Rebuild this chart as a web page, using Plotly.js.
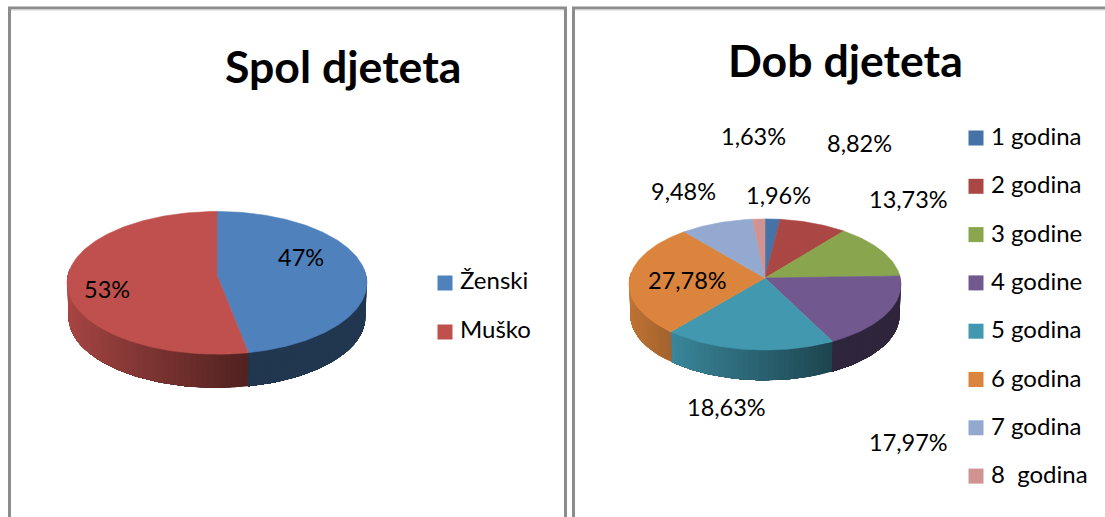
<!DOCTYPE html>
<html>
<head>
<meta charset="utf-8">
<script src="https://cdn.plot.ly/plotly-3.0.1.min.js"></script>
<style>html,body{margin:0;padding:0;background:#fff;overflow:hidden}#c{width:1105px;height:517px}</style>
</head>
<body>
<div id="c"></div>
<script>
// ---- data ----
const sexCategories = ["Ženski", "Muško"];
const sexValues = [47, 53];
const sexColors = ["#4F81BD", "#C0504D"];

const ageCategories = ["1 godina", "2 godina", "3 godine", "4 godine", "5 godina", "6 godina", "7 godina", "8  godina"];
const ageValues = [1.96, 8.82, 13.73, 17.97, 18.63, 27.78, 9.48, 1.63];
const ageColors = ["#4572A7", "#AA4643", "#89A54E", "#71588F", "#4198AF", "#DB843D", "#93A9CF", "#D19392"];

// ---- layout constants (pixels of the page) ----
const FONT = "Lato, 'Open Sans', sans-serif";
const sexPie = {cx: 217, cy: 275, rx: 149, ry: 70.5, k: 0.11, depth: 34.5};
const agePie = {cx: 765, cy: 278, rx: 135.3, ry: 64.9, k: 0.099, depth: 31};
const sexLabelPos = [[301, 257], [107, 289]];
const ageLabelPos = [[778, 195], [859, 143], [908, 199], [908, 442], [726, 407], [687, 280], [683, 191], [753, 136]];
const sexLegend = {x: 445, tx: 460, y: 283, ty: 282.5, step: 49};
const ageLegend = {x: 976, tx: 991, y: 138, ty: 139, step: 48.3};

function project(p, theta, down, scale) {
  const u = Math.sin(theta) * scale, v = -Math.cos(theta) * scale;
  const w = 1 - p.k * v;
  return [p.cx + p.rx * u / w, p.cy + p.ry * v / w + down];
}
function shade(hex, f) {
  const n = parseInt(hex.slice(1), 16);
  return "rgb(" + [(n >> 16) & 255, (n >> 8) & 255, n & 255].map(c => Math.round(c * f)).join(",") + ")";
}
function polyTrace(pts, color, lw) {
  return {
    type: "scatter", mode: "lines", x: pts.map(q => q[0]), y: pts.map(q => q[1]),
    fill: "toself", fillcolor: color, line: {color: color, width: lw},
    hoverinfo: "skip", showlegend: false
  };
}
function pieTraces(p, values, colors) {
  const total = values.reduce((a, b) => a + b, 0);
  const sides = [], tops = [];
  const VIS0 = 85 * Math.PI / 180, VIS1 = 275 * Math.PI / 180, DEG = Math.PI / 180;
  let acc = 0;
  values.forEach((val, i) => {
    const a0 = acc / total * 2 * Math.PI;
    acc += val;
    const a1 = acc / total * 2 * Math.PI;
    // visible side of the slice, painted from its far end so every strip overlaps the next one
    const s0 = Math.max(a0, VIS0), s1 = Math.min(a1, VIS1);
    if (s1 > s0) {
      const uL = Math.min(Math.sin(s0), Math.sin(s1));
      const n = Math.max(1, Math.ceil((s1 - s0) / (2 * DEG)));
      for (let j = 0; j < n; j++) {
        const t0 = s0 + (s1 - s0) * j / n, t1 = s0 + (s1 - s0) * (j + 1) / n;
        const u = Math.sin((t0 + t1) / 2);
        const f = uL >= -0.05 ? 0.42 : Math.max(0.42, 0.88 - 0.39 * (u - uL));
        // strip runs to the slice's end; later strips paint over it
        const pts = [project(p, t0, 0, 1)];
        for (let q = j + 1; q <= n; q++) pts.push(project(p, s0 + (s1 - s0) * q / n, 0, 1));
        for (let q = n; q >= j; q--) pts.push(project(p, s0 + (s1 - s0) * q / n, p.depth, 0.99));
        pts.push(project(p, t0, 0, 1));
        sides.push(polyTrace(pts, shade(colors[i], f), 0));
      }
    }
    // top of the slice
    const pts = [[p.cx, p.cy]];
    const m = Math.max(2, Math.ceil((a1 - a0) / DEG));
    for (let j = 0; j <= m; j++) pts.push(project(p, a0 + (a1 - a0) * j / m, 0, 1));
    pts.push([p.cx, p.cy]);
    tops.push(polyTrace(pts, colors[i], 0.6));
  });
  return sides.concat(tops);
}
function legendTraces(l, cats, colors, size) {
  return [{
    type: "scatter", mode: "markers",
    x: cats.map(() => l.x), y: cats.map((c, i) => l.y + i * l.step),
    marker: {symbol: "square", size: 15, color: colors, line: {width: 0}},
    hoverinfo: "skip", showlegend: false, cliponaxis: false
  }, {
    type: "scatter", mode: "text",
    x: cats.map(() => l.tx), y: cats.map((c, i) => l.ty + i * l.step),
    text: cats, textposition: "middle right",
    textfont: {family: FONT, size: size, color: "#000"},
    hoverinfo: "skip", showlegend: false, cliponaxis: false
  }];
}
const fmtAge = v => v.toFixed(2).replace(".", ",") + "%";
const fmtSex = v => v + "%";
function labelAnn(txt, pos) {
  return {text: txt, x: pos[0], y: pos[1], xref: "x", yref: "y", showarrow: false,
    xanchor: "center", yanchor: "middle", font: {family: FONT, size: 23.5, color: "#000"}};
}
function titleAnn(txt, x, y) {
  return {text: "<b>" + txt + "</b>", x: x, y: y, xref: "x", yref: "y", showarrow: false,
    xanchor: "center", yanchor: "middle", font: {family: FONT, size: 44.6, color: "#000"}};
}
function frameLine(x0, y0, x1, y1, c, w) {
  return {type: "line", xref: "x", yref: "y", x0, y0, x1, y1, line: {color: c, width: w}};
}

const traces = []
  .concat(pieTraces(sexPie, sexValues, sexColors))
  .concat(pieTraces(agePie, ageValues, ageColors))
  .concat(legendTraces(sexLegend, sexCategories, sexColors, 24))
  .concat(legendTraces(ageLegend, ageCategories, ageColors, 24));

const annotations = [titleAnn("Spol djeteta", 343, 65), titleAnn("Dob djeteta", 845, 59)]
  .concat(sexValues.map((v, i) => labelAnn(fmtSex(v), sexLabelPos[i])))
  .concat(ageValues.map((v, i) => labelAnn(fmtAge(v), ageLabelPos[i])));

const G = "#8c8c8c", L = "#d4d4d4";
const shapes = [
  frameLine(8, 8, 567, 8, G, 3), frameLine(9.5, 8, 9.5, 517, G, 3), frameLine(565.5, 8, 565.5, 517, G, 3),
  frameLine(573.5, 8, 573.5, 517, G, 3), frameLine(572, 8, 1105, 8, G, 3),
  frameLine(11, 10, 564, 10, L, 1), frameLine(575, 10, 1105, 10, L, 1)
];

const layout = {
  width: 1105, height: 517, margin: {l: 0, r: 0, t: 0, b: 0},
  paper_bgcolor: "#fff", plot_bgcolor: "#fff", showlegend: false,
  xaxis: {range: [0, 1105], visible: false, fixedrange: true},
  yaxis: {range: [517, 0], visible: false, fixedrange: true},
  annotations, shapes
};
Plotly.newPlot("c", traces, layout, {displayModeBar: false, staticPlot: true});
</script>
</body>
</html>
